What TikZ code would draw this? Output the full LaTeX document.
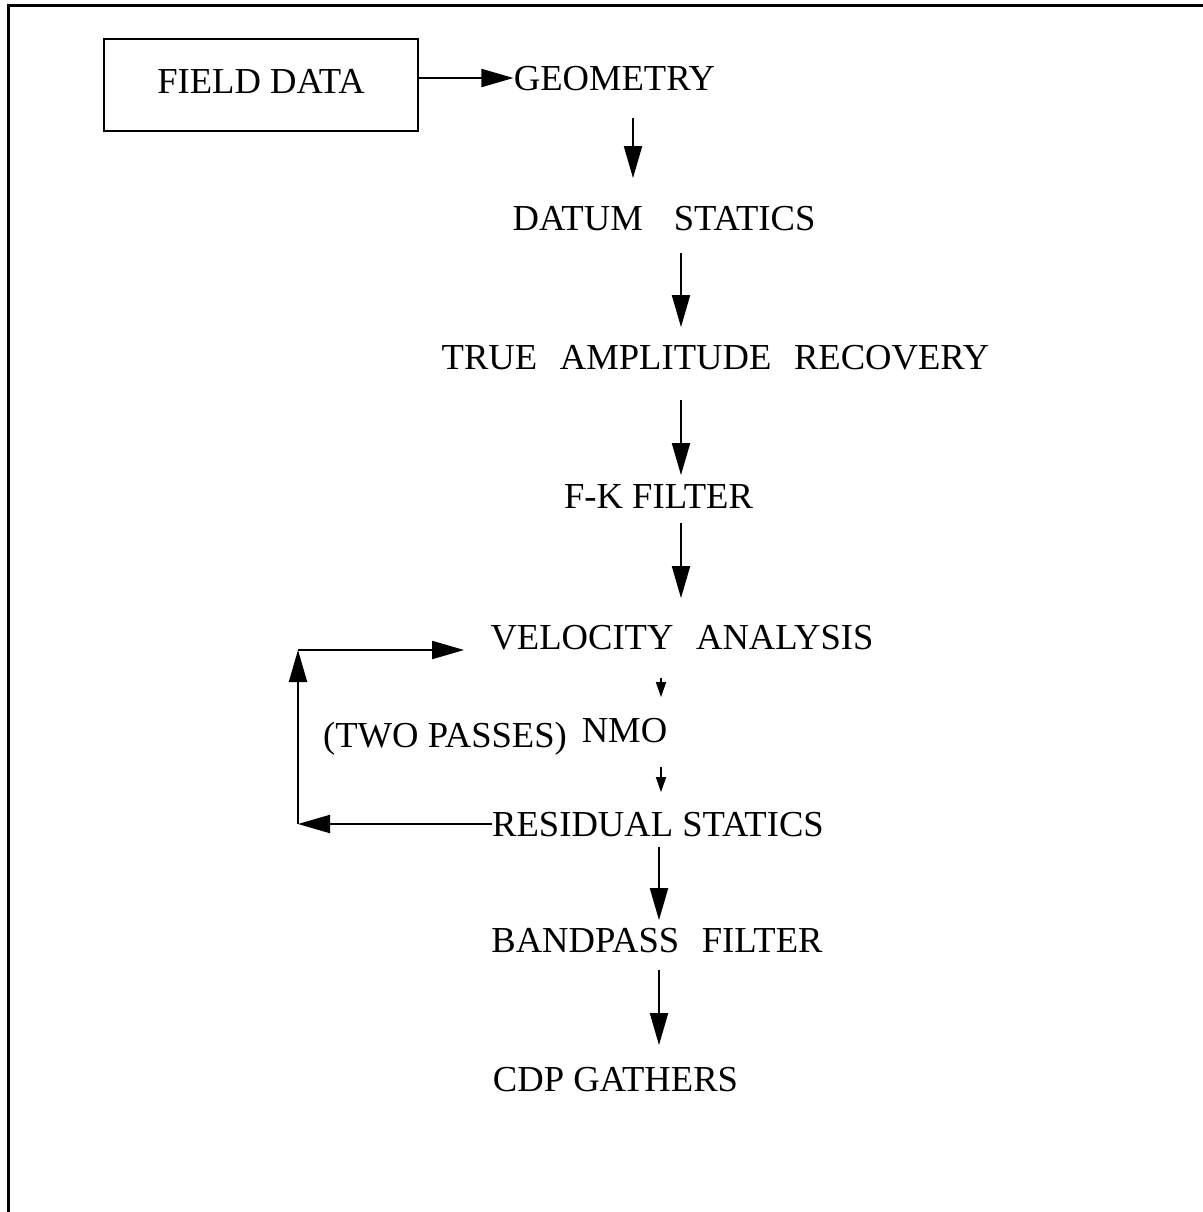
\documentclass[tikz,border=0pt]{standalone}
\usepackage{fontspec}
\setmainfont{Liberation Serif}
\usetikzlibrary{arrows.meta}

\newcommand{\widegap}[1][0.62em]{\hspace{#1}}

\begin{document}
\begin{tikzpicture}[x=0.5pt, y=-0.5pt,
        txt/.style={inner sep=0pt, text height=12pt, text depth=0pt, font=\fontsize{18.3}{22}\selectfont},
        flow/.style={line width=1pt, -{Triangle[length=16pt, width=9pt]}},
        shortflow/.style={line width=0.8pt, -{Triangle[length=7.5pt, width=5pt]}}]
        \useasboundingbox (0,0) rectangle (1203,1212);
        \draw[line width=1.5pt] (8,1230) -- (8,5) -- (1230,5);

        \node[txt, draw, line width=1pt, text depth=4pt, minimum width=157pt, minimum height=46pt] (field) at (261,85) {FIELD DATA\hspace{4pt}};
        \node[txt] (geom) at (614.5,78) {GEOMETRY};
        \node[txt] (datum) at (664,218) {DATUM\widegap[0.85em]STATICS};
        \node[txt] (true) at (715.5,357) {TRUE\widegap AMPLITUDE\widegap RECOVERY};
        \node[txt] (fk) at (658.5,496) {F-K FILTER};
        \node[txt] (vel) at (682,637) {VELOCITY\widegap ANALYSIS};
        \node[txt] (passes) at (445,735) {(TWO PASSES)};
        \node[txt] (nmo) at (624.5,730) {NMO};
        \node[txt] (resid) at (658,824) {RESIDUAL STATICS};
        \node[txt] (band) at (657,940) {BANDPASS\widegap FILTER};
        \node[txt] (cdp) at (615.5,1079) {CDP GATHERS};

        \coordinate (col1) at (633,0);
        \coordinate (col2) at (681,0);
        \coordinate (col3) at (661,0);
        \coordinate (col4) at (659,0);
        \coordinate (lb) at (298,824);
        \coordinate (lt) at (298,650);

        \draw[flow] (field.east |- geom) -- (geom.west);
        \draw[flow, shorten <=13.75pt, shorten >=13.75pt] (geom.south -| col1) -- (datum.north -| col1);
        \draw[flow, shorten <=11.25pt, shorten >=8.75pt] (datum.south -| col2) -- (true.north -| col2);
        \draw[flow, shorten <=15.25pt, shorten >=4.25pt] (true.south -| col2) -- (fk.north -| col2);
        \draw[flow, shorten <=7.25pt, shorten >=13.25pt] (fk.south -| col2) -- (vel.north -| col2);
        \draw[shortflow, shorten <=14.25pt, shorten >=10.25pt] (vel.south -| col3) -- (nmo.north -| col3);
        \draw[shortflow, shorten <=12.25pt, shorten >=9.75pt] (nmo.south -| col3) -- (resid.north -| col3);
        \draw[flow, shorten <=5.25pt, shorten >=3.75pt] (resid.south -| col4) -- (band.north -| col4);
        \draw[flow, shorten <=8.75pt, shorten >=10.75pt] (band.south -| col4) -- (cdp.north -| col4);

        \draw[flow] (resid.west) -- (lb);
        \draw[flow] (lb) -- (lt);
        \draw[flow, shorten >=13pt] (lt) -- (vel.west |- lt);
    \end{tikzpicture}
\end{document}
